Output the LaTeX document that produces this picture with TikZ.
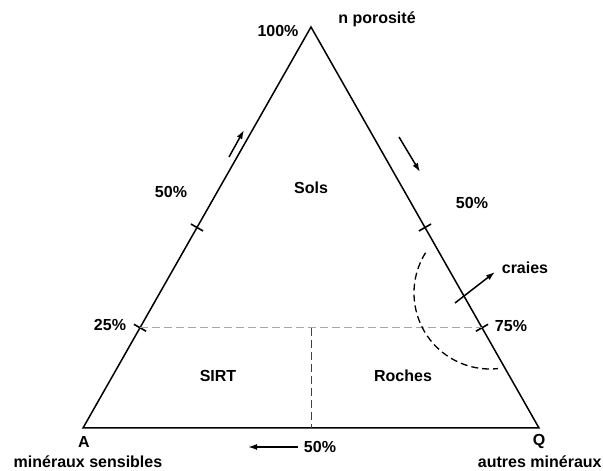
\documentclass[tikz,border=0pt]{standalone}
\usepackage{fontspec}
\setmainfont{Liberation Sans}
\usetikzlibrary{arrows.meta,calc}

\begin{document}
\begin{tikzpicture}[x=1pt,y=1pt,>={Latex[length=9pt,width=6pt]},thick]
\tikzstyle{every node}=[font=\fontsize{16}{19}\selectfont\bfseries, inner sep=1pt]
\tikzstyle{edge}=[line width=1.5pt]
\tikzstyle{tick}=[line width=1.6pt]
\tikzstyle{grid}=[dashed, dash pattern=on 8pt off 4pt, line width=1.3pt]
\tikzstyle{sense}=[->, line width=1.5pt]

\useasboundingbox (0,0) rectangle (603,471);

% corners
\coordinate (A) at (83,43);
\coordinate (Q) at (539,43);
\coordinate (N) at (311,444);

% marks on the sides
\coordinate (L50) at ($(A)!0.5!(N)$);
\coordinate (L25) at ($(A)!0.25!(N)$);
\coordinate (R50) at ($(Q)!0.5!(N)$);
\coordinate (R75) at ($(Q)!0.25!(N)$);
\coordinate (M)   at (L25 -| N);
\coordinate (B)   at (A -| N);

\draw[edge] (A) -- (N) -- (Q) -- cycle;

\foreach \p/\q in {L50/N, L25/N, R50/N, R75/N}
  \draw[tick] ($(\p)!7pt!90:(\q)$) -- ($(\p)!7pt!-90:(\q)$);

\draw[grid, gray!70] (L25) -- (R75);
\draw[grid, black!75, line width=1pt] (M) -- (B);

% craies
\draw[dashed, dash pattern=on 7pt off 4pt, line width=1.3pt] (490,178) ++(148:76) arc (148:276:76);
\coordinate (c1) at (455,168);
\coordinate (c2) at (495,199);
\draw[sense] (c1) -- (c2);

% sense arrows
\coordinate (a1) at (229,314);
\coordinate (a2) at (244,341);
\coordinate (b1) at (399,334);
\coordinate (b2) at (420,299);
\coordinate (d1) at (298,24);
\coordinate (d2) at (248,24);
\draw[sense] (a1) -- (a2);
\draw[sense] (b1) -- (b2);
\draw[sense] (d1) -- (d2);

% labels
\node (p100)  at (278,440) {100\%};
\node (npor)  at (377,452) {n porosité};
\node (pl50)  at (171,279) {50\%};
\node (pr50)  at (472,268) {50\%};
\node (p25)   at (110,146) {25\%};
\node (p75)   at (511,145) {75\%};
\node (pb50)  at (320,24)  {50\%};
\node (crai)  at (525,203) {craies};
\node (sols)  at (311,283) {Sols};
\node (sirt)  at (218,95)  {SIRT};
\node (roch)  at (403,95)  {Roches};
\node (la)    at (84,29)   {A};
\node (lq)    at (539,30)  {Q};
\node (sens)  at (88,9)    {minéraux sensibles};
\node[anchor=east] (autr) at (603,9) {autres minéraux};
\end{tikzpicture}
\end{document}
